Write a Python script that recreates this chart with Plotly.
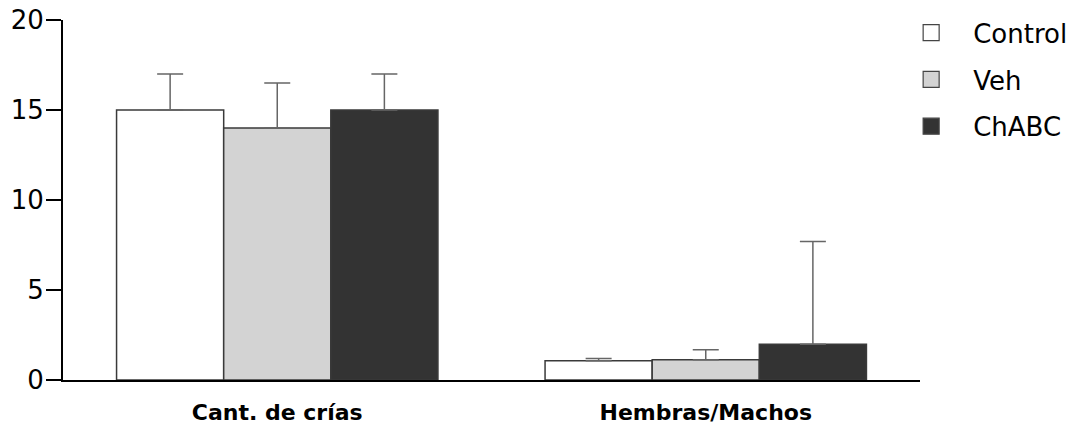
import plotly.graph_objects as go

categories = ["<b>Cant. de crías</b>", "<b>Hembras/Machos</b>"]
series_names = ["Control", "Veh", "ChABC"]
control_vals = [15.0, 1.07]
veh_vals = [14.0, 1.13]
chabc_vals = [15.0, 1.98]
control_err = [2.0, 0.13]
veh_err = [2.5, 0.55]
chabc_err = [2.0, 5.72]
y_ticks = [0, 5, 10, 15, 20]

fills = ["#ffffff", "#d3d3d3", "#333333"]
values = [control_vals, veh_vals, chabc_vals]
errors = [control_err, veh_err, chabc_err]

fig = go.Figure()
for name, vals, errs, col in zip(series_names, values, errors, fills):
    fig.add_trace(go.Bar(
        x=categories, y=vals, name=name, showlegend=False,
        marker=dict(color=col, line=dict(color="#3a3a3a", width=1.5)),
        error_y=dict(type="data", array=errs, symmetric=False, arrayminus=[0]*len(errs),
                     color="#666666", thickness=1.5, width=13),
    ))
for i, (name, col) in enumerate(zip(series_names, fills)):
    fig.add_trace(go.Scatter(
        x=[categories[0]], y=[None], mode="markers", name=name,
        legendgroup=f"g{i}",
        marker=dict(symbol="square", size=18, color=col, line=dict(color="#444444", width=1.2)),
    ))

fig.update_layout(
    width=1075, height=426,
    margin=dict(l=63, r=155, t=20, b=46, autoexpand=False),
    paper_bgcolor="white", plot_bgcolor="white",
    barmode="group", bargap=0.25, bargroupgap=0,
    font=dict(family="DejaVu Sans", color="black"),
    legend=dict(x=0.964, y=1.03, xanchor="left", yanchor="top", itemwidth=74,
                font=dict(size=26), tracegroupgap=10, bgcolor="rgba(0,0,0,0)"),
    xaxis=dict(showline=True, linecolor="black", linewidth=2, ticks="outside",
               ticklen=12, tickcolor="rgba(0,0,0,0)", tickfont=dict(size=22),
               showgrid=False, zeroline=False, automargin=False),
    yaxis=dict(range=[0, 20], tickvals=y_ticks, showline=True, linecolor="black",
               linewidth=2, ticks="outside", ticklen=15, tickwidth=2, tickcolor="black",
               tickfont=dict(size=26), showgrid=False, zeroline=False, automargin=False,
               ticklabelstandoff=-3),
)
fig.write_html("out.html", config={"displayModeBar": False},
               post_script="document.body.style.margin='0';document.body.style.overflow='hidden';")
